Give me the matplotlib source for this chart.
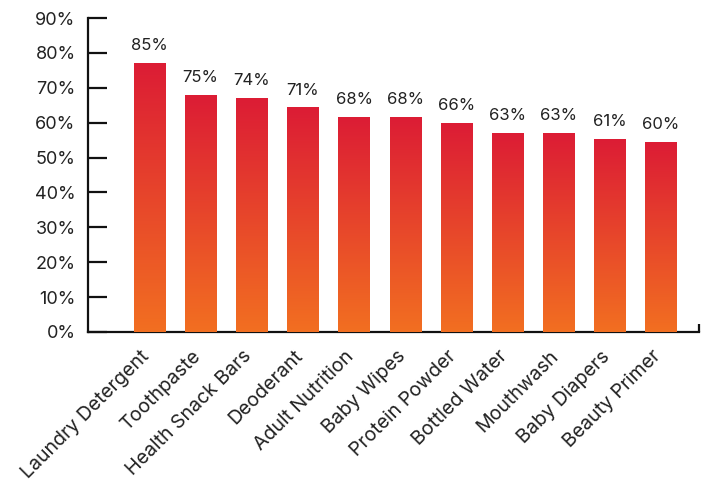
import numpy as np
import matplotlib
matplotlib.use("Agg")
import matplotlib.pyplot as plt
from matplotlib.colors import LinearSegmentedColormap
from matplotlib.transforms import ScaledTranslation

categories = ["Laundry Detergent", "Toothpaste", "Health Snack Bars", "Deoderant",
              "Adult Nutrition", "Baby Wipes", "Protein Powder", "Bottled Water",
              "Mouthwash", "Baby Diapers", "Beauty Primer"]
values = [85, 75, 74, 71, 68, 68, 66, 63, 63, 61, 60]
tick_labels = ["0%", "10%", "20%", "30%", "40%", "50%", "60%", "70%", "80%", "90%"]

plt.rcParams["font.family"] = ["Inter", "DejaVu Sans"]
text_color = "#222222"

fig = plt.figure(figsize=(7.07, 4.79), dpi=100)
ax = fig.add_axes([0.1245, 0.3069, 0.8642, 0.6555])

y_top = 99.2
x_left, x_right = -1.204, 10.75

grad = LinearSegmentedColormap.from_list("bar_grad", ["#F26F21", "#DC1C35"])
ramp = np.linspace(0, 1, 256).reshape(-1, 1)

x = np.arange(len(categories))
width = 0.607
bars = ax.bar(x, values, width=width, color="none", edgecolor="none", zorder=3)
for rect, v in zip(bars, values):
    x0 = rect.get_x()
    img = ax.imshow(ramp, cmap=grad, origin="lower", aspect="auto",
                    extent=[x0, x0 + rect.get_width(), 0, v], zorder=3,
                    interpolation="bilinear")
    img.set_clip_path(rect)
    ax.annotate(f"{v}%", (rect.get_x() + rect.get_width() / 2, v),
                xytext=(0, 7), textcoords="offset points",
                ha="center", va="bottom", fontsize=12, color=text_color)

ax.set_xlim(x_left, x_right)
ax.set_ylim(0, y_top)

# y axis: ticks pointing inward
ax.set_yticks(np.linspace(0, y_top, len(tick_labels)))
ax.set_yticklabels(tick_labels, fontsize=13, color=text_color)
ax.tick_params(axis="y", direction="in", length=14, width=1.6, color="#111111", pad=9)

# x axis: category labels rotated, small closing tick at the right end
ax.set_xticks(x)
ax.set_xticklabels(categories, rotation=45, ha="right", rotation_mode="anchor",
                   fontsize=14, color=text_color)
ax.tick_params(axis="x", length=0, pad=11)
shift = ScaledTranslation(-9 / 100, 0, fig.dpi_scale_trans)
for lbl in ax.get_xticklabels():
    lbl.set_transform(lbl.get_transform() + shift)
ax.set_xticks([x_right], minor=True)
ax.tick_params(axis="x", which="minor", direction="in", length=6, width=1.6, color="#111111")

for side in ("top", "right"):
    ax.spines[side].set_visible(False)
for side in ("left", "bottom"):
    ax.spines[side].set_linewidth(1.6)
    ax.spines[side].set_color("#111111")

fig.savefig("out.png", dpi=100)
